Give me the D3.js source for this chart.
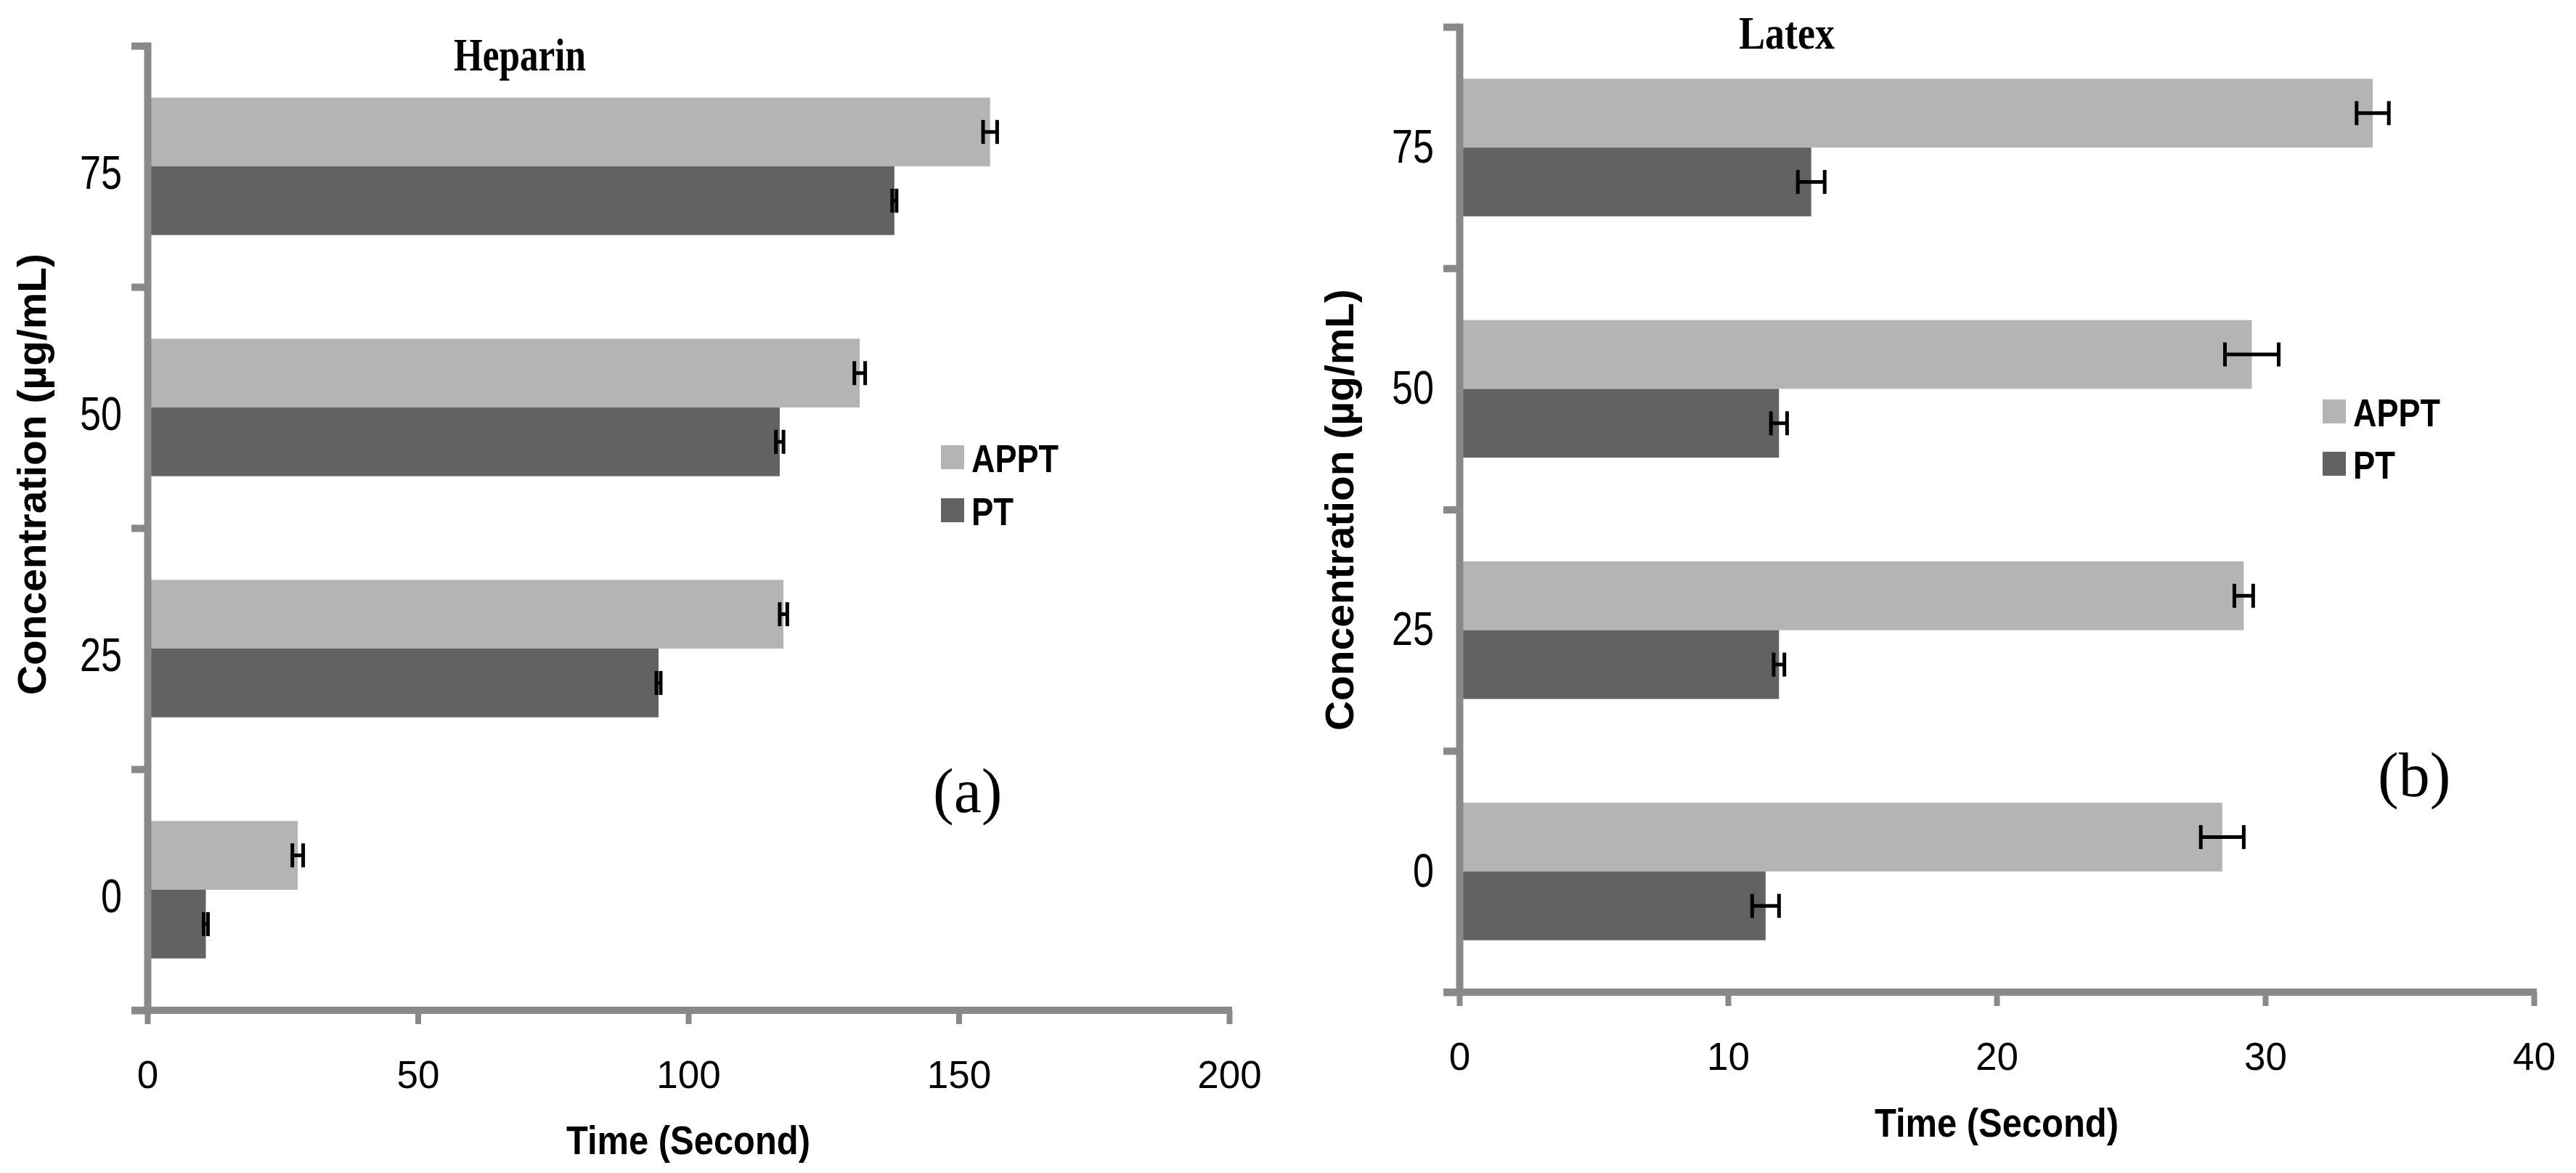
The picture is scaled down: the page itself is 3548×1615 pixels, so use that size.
<!DOCTYPE html>
<html>
<head>
<meta charset="utf-8">
<script src="https://cdn.jsdelivr.net/npm/d3@7"></script>
<style>
  body { margin: 0; background: #fff; }
  svg { display: block; }
</style>
</head>
<body>
<div id="chart"></div>
<script>
/*
------------------------------
DATA (seconds)
------------------------------
*/
const concentrations = ["75", "50", "25", "0"]; // µg/mL, top to bottom
const series = ["APPT", "PT"];

const heparinAppt = [155.8, 131.7, 117.6, 27.8];
const heparinApptErr = [1.3, 1.0, 0.7, 1.0];
const heparinPt = [138.1, 116.9, 94.5, 10.8];
const heparinPtErr = [0.4, 0.7, 0.4, 0.4];

const latexAppt = [34.0, 29.5, 29.2, 28.4];
const latexApptErr = [0.6, 1.0, 0.35, 0.8];
const latexPt = [13.1, 11.9, 11.9, 11.4];
const latexPtErr = [0.5, 0.3, 0.2, 0.5];

const heparinTicks = [0, 50, 100, 150, 200];
const latexTicks = [0, 10, 20, 30, 40];

/*
------------------------------
METHOD: canvas
------------------------------
*/
const width = 3548;
const height = 1615;
const colors = { APPT: "#b4b4b4", PT: "#626262" };
const axisColor = "#898989";

const svg = d3
  .select("#chart")
  .append("svg")
  .attr("width", width)
  .attr("height", height)
  .style("background", "#fff");

/*
------------------------------
METHOD: draw one panel
------------------------------
*/
function drawPanel(p) {
  const g = svg.append("g");

  const x = d3
    .scaleLinear()
    .domain([0, p.ticks[p.ticks.length - 1]])
    .range([p.left, p.right]);

  const y = d3
    .scaleBand()
    .domain(concentrations)
    .range([p.top, p.bottom])
    .paddingInner(0.43)
    .paddingOuter(0.215);

  const ySub = d3.scaleBand().domain(series).range([0, y.bandwidth()]);

  // boundaries between the categories (where the y ticks sit)
  const yEdge = d3
    .scaleLinear()
    .domain([0, concentrations.length])
    .range([p.top, p.bottom]);

  const rows = [];
  concentrations.forEach((c, i) => {
    rows.push({ c: c, s: "APPT", v: p.appt[i], e: p.apptErr[i] });
    rows.push({ c: c, s: "PT", v: p.pt[i], e: p.ptErr[i] });
  });

  // bars
  g.append("g")
    .selectAll("rect")
    .data(rows)
    .enter()
    .append("rect")
    .attr("x", x(0))
    .attr("y", (d) => y(d.c) + ySub(d.s))
    .attr("width", (d) => x(d.v) - x(0))
    .attr("height", ySub.bandwidth())
    .attr("fill", (d) => colors[d.s]);

  // error bars
  const cap = 33;
  const err = g
    .append("g")
    .attr("stroke", "#000")
    .attr("stroke-width", 5);

  const mid = (d) => y(d.c) + ySub(d.s) + ySub.bandwidth() / 2;

  err.selectAll("line.h")
    .data(rows)
    .enter()
    .append("line")
    .attr("class", "h")
    .attr("x1", (d) => x(d.v - d.e))
    .attr("x2", (d) => x(d.v + d.e))
    .attr("y1", mid)
    .attr("y2", mid);

  ["lo", "hi"].forEach((side) => {
    err.selectAll("line." + side)
      .data(rows)
      .enter()
      .append("line")
      .attr("class", side)
      .attr("x1", (d) => x(side === "lo" ? d.v - d.e : d.v + d.e))
      .attr("x2", (d) => x(side === "lo" ? d.v - d.e : d.v + d.e))
      .attr("y1", (d) => mid(d) - cap / 2)
      .attr("y2", (d) => mid(d) + cap / 2);
  });

  // y axis line + boundary ticks
  const yAxis = g
    .append("g")
    .attr("transform", `translate(${p.left},0)`)
    .call(
      d3.axisLeft(yEdge)
        .tickValues(d3.range(concentrations.length + 1))
        .tickFormat("")
        .tickSize(22)
        .tickSizeOuter(0)
    );
  yAxis.select(".domain")
    .attr("stroke", axisColor)
    .attr("stroke-width", 10)
    .attr("stroke-linecap", "square");
  yAxis.selectAll(".tick line").attr("stroke", axisColor).attr("stroke-width", 10);

  // y category labels
  const yLab = g
    .append("g")
    .attr("transform", `translate(${p.left},${p.labelShift})`)
    .call(d3.axisLeft(y).tickSize(0).tickPadding(35));
  yLab.select(".domain").remove();
  yLab.selectAll("text")
    .attr("fill", "#000")
    .style("font-family", "'Liberation Sans', Arial, sans-serif")
    .style("font-size", "65px")
    .attr("textLength", (d) => d.length * 29)
    .attr("lengthAdjust", "spacingAndGlyphs");

  // x axis
  const xAxis = g
    .append("g")
    .attr("transform", `translate(0,${p.bottom})`)
    .call(
      d3.axisBottom(x)
        .tickValues(p.ticks)
        .tickSize(19)
        .tickSizeOuter(0)
        .tickPadding(50)
    );
  xAxis.select(".domain")
    .attr("d", `M${p.left - 22},0H${p.right + 4}`)
    .attr("stroke", axisColor)
    .attr("stroke-width", 10);
  xAxis.selectAll(".tick line").attr("stroke", axisColor).attr("stroke-width", 8);
  xAxis.selectAll("text")
    .attr("fill", "#000")
    .style("font-family", "'Liberation Sans', Arial, sans-serif")
    .style("font-size", "53px");

  // panel title
  g.append("text")
    .attr("x", p.titleX)
    .attr("y", p.titleY)
    .attr("textLength", p.titleLen)
    .attr("lengthAdjust", "spacingAndGlyphs")
    .style("font-family", "'Liberation Serif', 'Times New Roman', serif")
    .style("font-weight", "bold")
    .style("font-size", "64px")
    .text(p.title);

  // x axis title
  g.append("text")
    .attr("x", (p.left + p.right) / 2)
    .attr("y", p.xTitleY)
    .attr("text-anchor", "middle")
    .attr("textLength", 336)
    .attr("lengthAdjust", "spacingAndGlyphs")
    .style("font-family", "'Liberation Sans', Arial, sans-serif")
    .style("font-weight", "bold")
    .style("font-size", "56px")
    .text("Time (Second)");

  // y axis title
  g.append("text")
    .attr("transform", `translate(${p.yTitleX},${p.yTitleY}) rotate(-90)`)
    .attr("text-anchor", "middle")
    .attr("textLength", 608)
    .attr("lengthAdjust", "spacingAndGlyphs")
    .style("font-family", "'Liberation Sans', Arial, sans-serif")
    .style("font-weight", "bold")
    .style("font-size", "56px")
    .text("Concentration (µg/mL)");

  // legend
  const leg = g
    .append("g")
    .selectAll("g")
    .data(series)
    .enter()
    .append("g")
    .attr("transform", (d, i) => `translate(${p.legX},${p.legY + i * p.legGap})`);
  leg.append("rect")
    .attr("width", 32)
    .attr("height", 33)
    .attr("fill", (d) => colors[d]);
  leg.append("text")
    .attr("x", 42)
    .attr("y", 37)
    .attr("textLength", (d) => (d === "APPT" ? 120 : 58))
    .attr("lengthAdjust", "spacingAndGlyphs")
    .style("font-family", "'Liberation Sans', Arial, sans-serif")
    .style("font-weight", "bold")
    .style("font-size", "53px")
    .text((d) => d);

  // panel letter
  g.append("text")
    .attr("x", p.letterX)
    .attr("y", p.letterY)
    .style("font-family", "'Liberation Serif', 'Times New Roman', serif")
    .style("font-size", "86px")
    .text(p.letter);
}

drawPanel({
  title: "Heparin",
  letter: "(a)",
  appt: heparinAppt,
  apptErr: heparinApptErr,
  pt: heparinPt,
  ptErr: heparinPtErr,
  ticks: heparinTicks,
  left: 203,
  right: 1693,
  top: 63,
  bottom: 1391,
  labelShift: 10,
  titleX: 625,
  titleY: 97,
  titleLen: 182,
  xTitleY: 1589,
  yTitleX: 63,
  yTitleY: 653,
  legX: 1296,
  legY: 613,
  legGap: 73,
  letterX: 1285,
  letterY: 1118,
});

drawPanel({
  title: "Latex",
  letter: "(b)",
  appt: latexAppt,
  apptErr: latexApptErr,
  pt: latexPt,
  ptErr: latexPtErr,
  ticks: latexTicks,
  left: 2010,
  right: 3490,
  top: 37,
  bottom: 1366,
  labelShift: 0,
  titleX: 2395,
  titleY: 67,
  titleLen: 132,
  xTitleY: 1565,
  yTitleX: 1864,
  yTitleY: 702,
  legX: 3199,
  legY: 550,
  legGap: 72,
  letterX: 3275,
  letterY: 1096,
});
</script>
</body>
</html>
